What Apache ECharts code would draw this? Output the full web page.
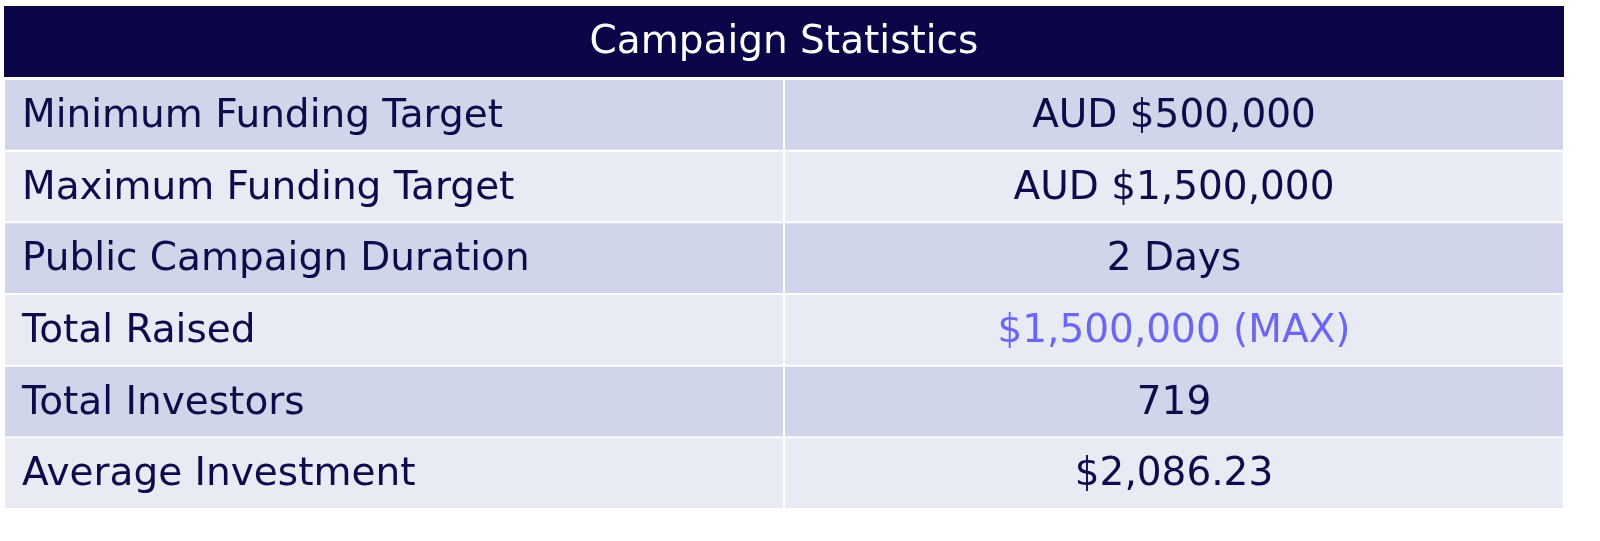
<!DOCTYPE html>
<html><head><meta charset="utf-8">
<script src="https://cdn.jsdelivr.net/npm/echarts@6/dist/echarts.min.js"></script>
<style>html,body{margin:0;padding:0;background:#fff}#c{width:1600px;height:541px}</style>
</head><body><div id="c"></div>
<script>
const title = 'Campaign Statistics';
const labels = ['Minimum Funding Target','Maximum Funding Target','Public Campaign Duration','Total Raised','Total Investors','Average Investment'];
const values = ['AUD $500,000','AUD $1,500,000','2 Days','$1,500,000 (MAX)','719','$2,086.23'];
const highlightRow = 3;

const data = [];
labels.forEach((l,i)=>{ data.push([0,i,l]); data.push([1,i,values[i]]); });

const FONT = '39px "DejaVu Sans"';
const chart = echarts.init(document.getElementById('c'));
chart.setOption({
  animation:false,
  grid:{left:4,right:36,top:79,bottom:32},
  xAxis:{type:'value',min:0,max:2,show:false},
  yAxis:{type:'category',data:labels,inverse:true,show:false},
  graphic:[
    {type:'rect',shape:{x:4,y:6,width:1560,height:71},style:{fill:'#0a0648'}},
    {type:'text',x:784,y:43,style:{text:title,fill:'#ffffff',font:FONT,align:'center',verticalAlign:'middle'}}
  ],
  series:[{
    type:'custom',
    data:data,
    renderItem:function(params,api){
      const col=api.value(0), row=api.value(1);
      const p=api.coord([col,row]);
      const s=api.size([1,1]);
      const x0=p[0], w=s[0], h=s[1], y0=p[1]-h/2;
      const bg = row%2===0 ? '#d0d5ea' : '#e8eaf4';
      const txt = data[params.dataIndex][2];
      const color = (col===1 && row===highlightRow) ? '#6b67f0' : '#0d0b4a';
      return {type:'group',children:[
        {type:'rect',shape:{x:x0+1,y:y0+1,width:w-2,height:h-2},style:{fill:bg}},
        {type:'text',x: col===0 ? x0+18 : x0+w/2, y:y0+h/2+2,
         style:{text:txt,fill:color,font:FONT,align: col===0?'left':'center',verticalAlign:'middle'}}
      ]};
    }
  }]
});
</script></body></html>
